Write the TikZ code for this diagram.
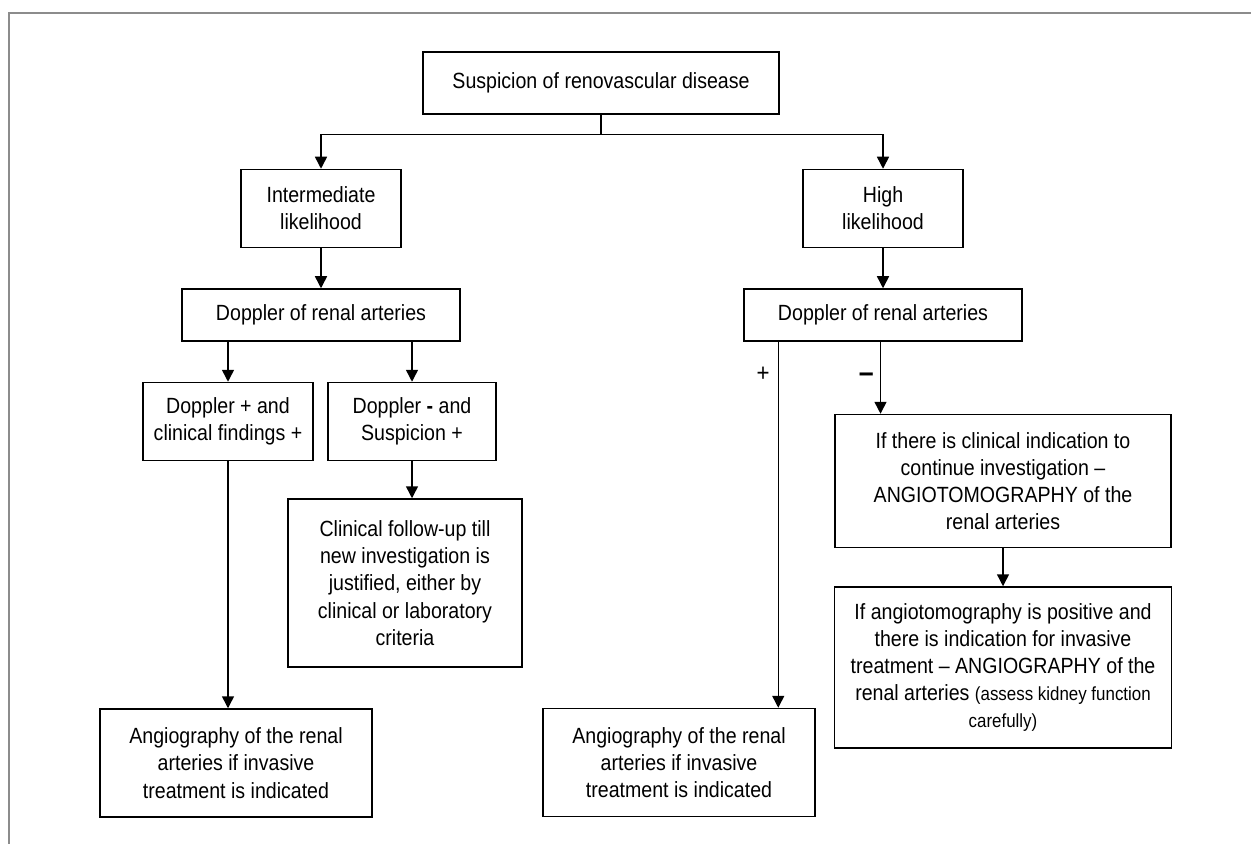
\documentclass[tikz,border=0pt]{standalone}
\usepackage{fontspec}
\setmainfont{Liberation Sans}[FakeStretch=0.89]
\usetikzlibrary{positioning,calc,arrows.meta}

\begin{document}
\begin{tikzpicture}[
    box/.style={rectangle, draw=black, line width=0.75pt, align=center, inner sep=2pt, font=\fontsize{11}{13.6}\selectfont},
    arrow/.style={-{Triangle[length=6pt,width=6pt]}, line width=0.75pt},
    line/.style={line width=0.75pt},
    sign/.style={inner sep=0pt, font=\fontsize{12.5}{14}\selectfont},
    frame/.style={draw=black!45, line width=0.75pt},
  ]
  \useasboundingbox (0,0) rectangle (625.5pt,-422pt);
  \draw [frame] (4.5pt,-422pt) -- (4.5pt,-6.5pt) -- (625.5pt,-6.5pt);
  \node [box, minimum width=178pt, minimum height=31pt] (suspicion) at (300.5pt,-41.5pt) {Suspicion of renovascular disease};
  \node [box, minimum width=80pt, minimum height=39pt, below=27pt of suspicion, xshift=-140pt] (intermediate) {Intermediate\\likelihood};
  \node [box, minimum width=80pt, minimum height=39pt, below=27pt of suspicion, xshift=141pt] (high) {High\\likelihood};
  \node [box, minimum width=139pt, minimum height=26pt, below=20pt of intermediate] (dopleft) {Doppler of renal arteries};
  \node [box, minimum width=139pt, minimum height=26pt, below=20pt of high] (dopright) {Doppler of renal arteries};
  \node [box, minimum width=85pt, minimum height=39pt, below=20pt of dopleft, xshift=-46.5pt] (dopplus) {Doppler + and\\clinical findings +};
  \node [box, minimum width=84pt, minimum height=39pt, below=20pt of dopleft, xshift=45.5pt] (dopminus) {Doppler \textbf{-} and\\Suspicion +};
  \node [box, minimum width=117pt, minimum height=84pt, below=18.5pt of dopminus, xshift=-3.5pt] (followup) {Clinical follow-up till\\new investigation is\\justified, either by\\clinical or laboratory\\criteria};
  \node [box, minimum width=136pt, minimum height=54pt, below=123.5pt of dopplus, xshift=4pt] (angioleft) {Angiography of the renal\\arteries if invasive\\treatment is indicated};
  \node [box, minimum width=136pt, minimum height=54pt, below=183pt of dopright, xshift=-102pt] (angioright) {Angiography of the renal\\arteries if invasive\\treatment is indicated};
  \node [box, minimum width=168pt, minimum height=66.5pt, below=36pt of dopright, xshift=60pt] (angiotomo) {If there is clinical indication to\\continue investigation –\\ANGIOTOMOGRAPHY of the\\renal arteries};
  \node [box, minimum width=168.5pt, minimum height=80.5pt, below=19pt of angiotomo] (angiography) {If angiotomography is positive and\\there is indication for invasive\\treatment – ANGIOGRAPHY of the\\renal arteries {\fontsize{9.5}{13.6}\selectfont(assess kidney function}\\{\fontsize{9.5}{13.6}\selectfont carefully)}};
  \coordinate (fork) at ($(suspicion.south)+(0,-10pt)$);
  \coordinate (plusline) at ($(dopright.south west)+(17.5pt,0)$);
  \coordinate (minusline) at ($(dopright.south)+(-1.25pt,0)$);
  \draw [line] (suspicion) -- (fork);
  \draw [arrow] (fork) -| (intermediate);
  \draw [arrow] (fork) -| (high);
  \draw [arrow] (intermediate) -- (dopleft);
  \draw [arrow] (high) -- (dopright);
  \draw [arrow] (dopplus.north |- dopleft.south) -- (dopplus);
  \draw [arrow] (dopminus.north |- dopleft.south) -- (dopminus);
  \draw [arrow] (dopplus) -- (dopplus.south |- angioleft.north);
  \draw [arrow] (dopminus) -- (dopminus.south |- followup.north);
  \draw [arrow] (plusline) -- node [sign, pos=0.09, left=4pt] {+} (plusline |- angioright.north);
  \draw [arrow] (minusline) -- node [sign, pos=0.5, left=3pt, font=\fontsize{15}{16}\selectfont\bfseries] {–} (minusline |- angiotomo.north);
  \draw [arrow] (angiotomo) -- (angiography);
\end{tikzpicture}
\end{document}
